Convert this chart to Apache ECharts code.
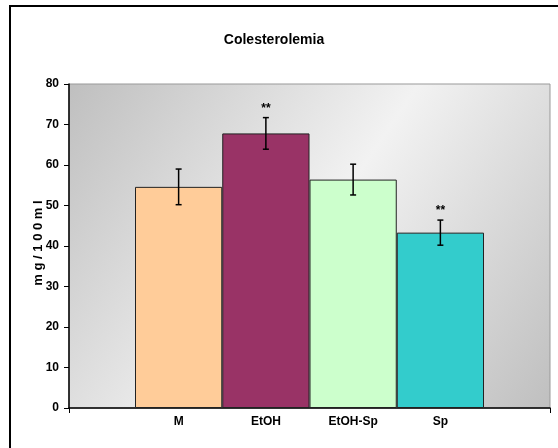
<!DOCTYPE html>
<html>
<head>
<meta charset="utf-8">
<script src="https://cdn.jsdelivr.net/npm/echarts@6/dist/echarts.min.js"></script>
<style>html,body{margin:0;padding:0;background:#fff}#c{width:558px;height:448px}</style>
</head>
<body>
<div id="c"></div>
<script>
const categories = ['M', 'EtOH', 'EtOH-Sp', 'Sp'];
const means = [54.6, 67.8, 56.4, 43.3];
const errors = [4.4, 3.9, 3.8, 3.1];
const stars = ['', '**', '', '**'];
const barColors = ['#FFCC99', '#993366', '#CCFFCC', '#33CCCC'];
const yTicks = [0, 10, 20, 30, 40, 50, 60, 70, 80];

const font = 'Liberation Sans, Arial, sans-serif';
const chart = echarts.init(document.getElementById('c'), null, {renderer: 'canvas'});

const errData = means.map((m, i) => [i, m - errors[i], m + errors[i], stars[i]]);

chart.setOption({
  animation: false,
  title: {
    text: 'Colesterolemia', left: 269, top: 28, textAlign: 'center',
    textStyle: {fontFamily: font, fontSize: 14, fontWeight: 'bold', color: '#000'}
  },
  graphic: [
    {type: 'rect', shape: {x: 10, y: 6, width: 600, height: 500}, style: {fill: 'none', stroke: '#000', lineWidth: 2}, z: 100},
    {type: 'text', x: 38, y: 243, rotation: Math.PI / 2,
     style: {text: 'm g / 1 0 0 m l', font: 'bold 13px ' + font, fill: '#000', align: 'center', verticalAlign: 'middle'}}
  ],
  grid: [
    {left: 69, right: 8, top: 84, bottom: 40, show: true, borderColor: '#999', borderWidth: 1,
     backgroundColor: new echarts.graphic.LinearGradient(0, 0, 1, 1, [
       {offset: 0, color: '#bfbfbf'}, {offset: 0.5, color: '#f2f2f2'}, {offset: 1, color: '#bfbfbf'}])},
    {left: 135, right: 74, top: 84, bottom: 40}
  ],
  xAxis: [
    {type: 'value', gridIndex: 0, min: 0, max: 1, interval: 1,
     axisLine: {show: true, lineStyle: {color: '#000', width: 1.5}},
     axisTick: {show: true, length: 5, lineStyle: {color: '#000'}},
     axisLabel: {show: false}, splitLine: {show: false}},
    {type: 'category', gridIndex: 1, data: categories,
     axisLine: {show: false}, axisTick: {show: false}, splitLine: {show: false},
     axisLabel: {fontFamily: font, fontSize: 12, fontWeight: 'bold', color: '#000', margin: 8}}
  ],
  yAxis: [
    {type: 'value', gridIndex: 0, min: 0, max: 80, interval: 10,
     axisLine: {show: true, lineStyle: {color: '#000', width: 1.5}},
     axisTick: {show: true, length: 5, lineStyle: {color: '#000'}},
     splitLine: {show: false},
     axisLabel: {fontFamily: font, fontSize: 12, fontWeight: 'bold', color: '#000', margin: 10,
       formatter: v => yTicks.includes(v) ? String(v) : ''}},
    {type: 'value', gridIndex: 1, min: 0, max: 80, interval: 10, show: false}
  ],
  series: [
    {type: 'bar', xAxisIndex: 1, yAxisIndex: 1, barWidth: '100%',
     data: means.map((v, i) => ({value: v, itemStyle: {color: barColors[i], borderColor: '#222', borderWidth: 1}}))},
    {type: 'custom', xAxisIndex: 1, yAxisIndex: 1, z: 10, data: errData,
     renderItem: function (params, api) {
       const x = api.coord([api.value(0), 0])[0];
       const lo = api.coord([api.value(0), api.value(1)])[1];
       const hi = api.coord([api.value(0), api.value(2)])[1];
       const s = stars[params.dataIndex];
       const st = {stroke: '#000', lineWidth: 1.5};
       const ch = [
         {type: 'line', shape: {x1: x, y1: lo, x2: x, y2: hi}, style: st},
         {type: 'line', shape: {x1: x - 3, y1: lo, x2: x + 3, y2: lo}, style: st},
         {type: 'line', shape: {x1: x - 3, y1: hi, x2: x + 3, y2: hi}, style: st}
       ];
       if (s) ch.push({type: 'text', x: x, y: hi - 9,
         style: {text: s, font: 'bold 12px ' + font, fill: '#000', align: 'center', verticalAlign: 'middle'}});
       return {type: 'group', children: ch};
     }}
  ]
});
</script>
</body>
</html>
